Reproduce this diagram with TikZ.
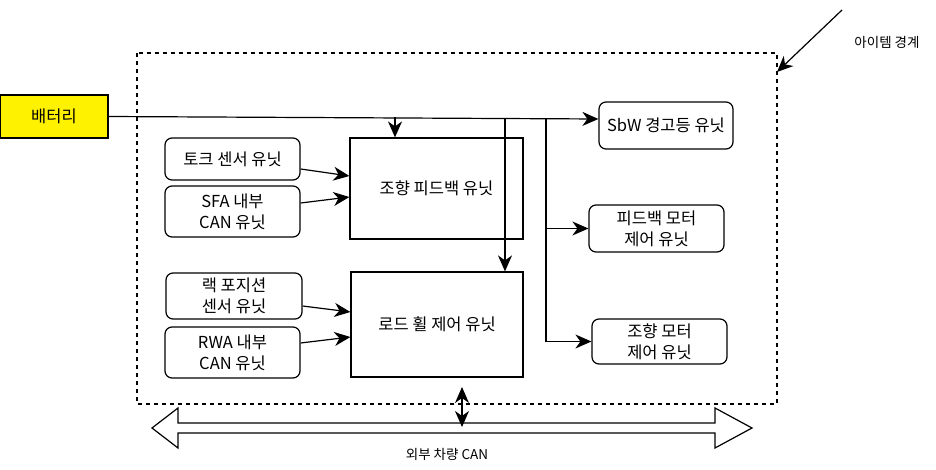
\documentclass[tikz,border=0pt]{standalone}
\usepackage{fontspec}
\setmainfont{Noto Sans CJK KR}
\usetikzlibrary{arrows.meta}
\begin{document}
\begin{tikzpicture}[x=1pt,y=-1pt,
  every node/.style={font=\fontsize{16.5}{21}\selectfont, align=center, inner sep=0pt},
  rbox/.style={draw, line width=1.2pt, rounded corners=7pt},
  sbox/.style={draw, line width=1.2pt},
  conn/.style={line width=1.2pt, -{Stealth[length=16pt,width=14pt,inset=5pt]}},
  dconn/.style={line width=1.2pt, {Stealth[length=16pt,width=14pt,inset=5pt]}-{Stealth[length=16pt,width=14pt,inset=5pt]}},
  plain/.style={line width=1.2pt},
  small/.style={font=\fontsize{13.5}{16}\selectfont}]
\useasboundingbox (0,0) rectangle (936,470);
% item boundary
\draw[line width=1.1pt, dash pattern=on 4pt off 4pt] (137,53) rectangle (777,404);
% nodes
\node[sbox, fill=yellow, minimum width=108pt, minimum height=43pt] (bat) at (54,116.5) {배터리};
\node[rbox, minimum width=135pt, minimum height=42pt] (tq) at (232.5,159) {토크 센서 유닛};
\node[rbox, minimum width=135pt, minimum height=51pt] (sfa) at (232.5,211.5) {SFA 내부\\CAN 유닛};
\node[rbox, minimum width=136pt, minimum height=46pt] (rack) at (234,296) {랙 포지션\\센서 유닛};
\node[rbox, minimum width=135pt, minimum height=51pt] (rwa) at (232.5,352.5) {RWA 내부\\CAN 유닛};
\node[sbox, minimum width=173pt, minimum height=101pt] (sfb) at (436.5,188.5) {조향 피드백 유닛};
\node[sbox, minimum width=172pt, minimum height=105pt] (rw) at (437,324.5) {로드 휠 제어 유닛};
\node[rbox, minimum width=134pt, minimum height=47pt] (sbw) at (666,125.5) {SbW 경고등 유닛};
\node[rbox, minimum width=135pt, minimum height=47pt] (fbm) at (656.5,228.5) {피드백 모터\\제어 유닛};
\node[rbox, minimum width=135pt, minimum height=45pt] (stm) at (659.5,341.5) {조향 모터\\제어 유닛};
\node[small] (itemlbl) at (887,42) {아이템 경계};
\node[small] (canlbl) at (447,454) {외부 차량 CAN};
% power line
\draw[conn] (bat.east) -- ([yshift=6.5pt]sbw.west);
\coordinate (t1) at (395,117.5);
\coordinate (t2) at (505,118);
\coordinate (t3) at (546,118.5);
\draw[conn] (t1) -- (t1 |- sfb.north);
\draw[conn] (t2) -- (t2 |- rw.north);
\draw[plain] (t3) -- (t3 |- stm.west);
\draw[conn] (t3 |- stm.west) -- (stm.west);
\draw[conn] (t3 |- fbm.west) -- (fbm.west);
% inputs
\draw[conn] ([yshift=-10pt]tq.east) -- ([yshift=12.5pt]sfb.west);
\draw[conn] ([yshift=8.5pt]sfa.east) -- ([yshift=-8.5pt]sfb.west);
\draw[conn] ([yshift=-10pt]rack.east) -- ([yshift=12.5pt]rw.west);
\draw[conn] ([yshift=9.5pt]rwa.east) -- ([yshift=-12.5pt]rw.west);
% boundary pointer
\coordinate (p0) at (842,10);
\coordinate (p1) at (777,72);
\draw[conn] (p0) -- (p1);
% external CAN block arrow
\draw[line width=1.2pt, fill=white] (152,428) -- (178,408) -- (178,423) -- (715,423) -- (715,408) -- (752,428) -- (715,448) -- (715,433) -- (178,433) -- (178,448) -- cycle;
\coordinate (c0) at (462,387);
\coordinate (c1) at (462,427);
\draw[dconn] (c0) -- (c1);
\end{tikzpicture}
\end{document}
